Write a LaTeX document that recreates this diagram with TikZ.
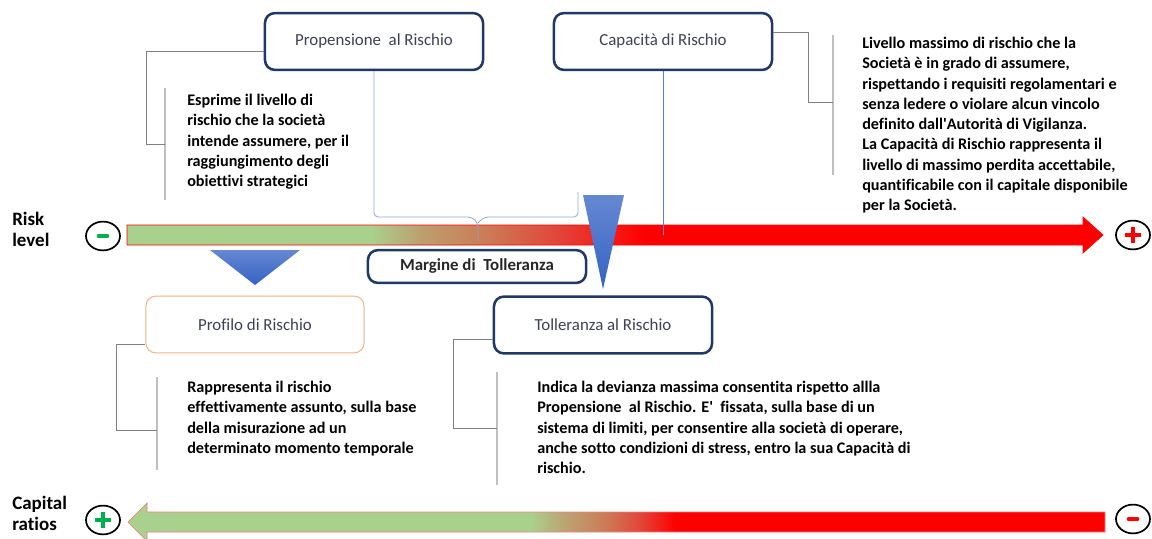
\documentclass[tikz,border=0pt]{standalone}
\usepackage{fontspec}
\setmainfont{Carlito}[Ligatures=NoCommon]
\usepackage{tikz}
\usetikzlibrary{positioning, calc, shapes.geometric}

\definecolor{navy}{HTML}{1F3864}
\definecolor{titlegray}{HTML}{3E4058}
\definecolor{riskgreen}{HTML}{A9D18E}
\definecolor{riskred}{HTML}{FF0000}
\definecolor{midtan}{HTML}{BCA070}
\definecolor{midbrown}{HTML}{CC7A55}
\definecolor{midred}{HTML}{E2463A}
\definecolor{edgered}{HTML}{F08080}
\definecolor{peach}{HTML}{F4B183}
\definecolor{linegray}{HTML}{808080}
\definecolor{bargray}{HTML}{BFBFBF}
\definecolor{bracelue}{HTML}{8EA9DB}
\definecolor{capblue}{HTML}{5B7FD0}
\definecolor{tritop}{HTML}{6688D2}
\definecolor{tribot}{HTML}{3462C4}
\definecolor{signgreen}{HTML}{00B050}

% shadings of the two bars (inner 25bp..75bp is the bounding box)
\pgfdeclarehorizontalshading{riskbar}{100bp}{color(0bp)=(riskgreen); color(37.5bp)=(riskgreen);
  color(40bp)=(midtan); color(43.5bp)=(midbrown); color(47bp)=(midred); color(51.5bp)=(riskred); color(100bp)=(riskred)}
\pgfdeclarehorizontalshading{capbar}{100bp}{color(0bp)=(riskgreen); color(45.6bp)=(riskgreen);
  color(47.5bp)=(midtan); color(49.5bp)=(midbrown); color(51.2bp)=(midred); color(53bp)=(riskred); color(100bp)=(riskred)}

\tikzset{
x=0.025cm, y=-0.025cm, % one unit is one pixel of the layout
box/.style={draw=navy, line width=1.8pt, rounded corners=7pt, fill=white, minimum width=5.45cm, minimum height=1.42cm, text=titlegray, font=\fontsize{12}{14}\selectfont}, % title boxes
desc/.style={anchor=north west, align=left, inner sep=0pt, font=\bfseries\fontsize{11.5}{14.4}\selectfont}, % description texts
conn/.style={draw=linegray, line width=0.6pt}, % box to text connectors
bar/.style={draw=bargray, line width=0.8pt}, % bar left of a text
sign/.style={ellipse, draw=black, line width=1.2pt, minimum width=0.85cm, minimum height=0.72cm, inner sep=0pt}, % plus and minus marks
axislabel/.style={anchor=north west, align=left, inner sep=0pt, font=\bfseries\fontsize{13.5}{15}\selectfont},
}

\begin{document}
\begin{tikzpicture}
\useasboundingbox (0,0) rectangle (1152,539);

% risk level bar
\shade[shading=riskbar, draw=riskred, line width=0.5pt] (127,225) -- (1083,225) -- (1083,217) -- (1103,235) -- (1083,253) -- (1083,245) -- (127,245) -- cycle;
\node[axislabel] (risk) at (12,212) {Risk\\level};
\node[sign] (rlo) at (103,236) {};
\node[sign] (rhi) at (1133,235) {};
\draw[signgreen, line width=3pt, line cap=round] ([xshift=-3pt]rlo.center) -- ([xshift=3pt]rlo.center);
\draw[riskred, line width=2.2pt] ([xshift=-5.5pt]rhi.center) -- ([xshift=5.5pt]rhi.center)
  ([yshift=-6pt]rhi.center) -- ([yshift=6pt]rhi.center);

% capital ratios bar
\shade[shading=capbar, draw=edgered, line width=0.5pt] (1105,512) -- (147,512) -- (147,503) -- (128,522) -- (147,541) -- (147,532) -- (1105,532) -- cycle;
\node[axislabel] (capr) at (12,496) {Capital\\ratios};
\node[sign] (clo) at (103,520) {};
\node[sign] (chi) at (1133,519) {};
\draw[signgreen, line width=2.2pt] ([xshift=-5.5pt]clo.center) -- ([xshift=5.5pt]clo.center)
  ([yshift=-6pt]clo.center) -- ([yshift=6pt]clo.center);
\draw[riskred, line width=3pt, line cap=round] ([xshift=-3pt]chi.center) -- ([xshift=3pt]chi.center);

% title boxes
\node[box] (prop) at (374,41.5) {Propensione\ \ al Rischio};
\node[box] (cap) at (663,41.5) {Capacità di Rischio};
\node[box, draw=peach, line width=0.7pt] (prof) at (255,324.5) {Profilo di Rischio};
\node[box] (toll) at (603,325) {Tolleranza al Rischio};
\node[box, minimum height=0.82cm, text=black!85, font=\bfseries\fontsize{12}{14}\selectfont] (marg) at (477,266.5) {Margine di\ \ Tolleranza};

% margin brace and capacity line
\draw[bracelue, line width=0.6pt, rounded corners=3pt] (prop.south) -- (374,217) -- (472,217) -- (478,223) -- (478,241);
\draw[bracelue, line width=0.6pt, rounded corners=3pt] (478,223) -- (484,217) -- (578,217) -- (578,192);
\draw[capblue, line width=0.6pt] (cap.south) -- (663,235);

% blue markers
\shade[top color=tritop, bottom color=tribot] (210,250) -- (300,250) -- (255,285) -- cycle;
\shade[top color=tritop, bottom color=tribot] (583,195) -- (624,195) -- (603,289) -- cycle;

% descriptions
\node[desc] (dprop) at (187,94) {Esprime il livello di\\rischio che la società\\intende assumere, per il\\raggiungimento degli\\obiettivi strategici};
\node[desc] (dcap) at (862,37) {Livello massimo di rischio che la\\Società è in grado di assumere,\\rispettando i requisiti regolamentari e\\senza ledere o violare alcun vincolo\\definito dall\textquotesingle Autorità di Vigilanza.\\La Capacità di Rischio rappresenta il\\livello di massimo perdita accettabile,\\quantificabile con il capitale disponibile\\per la Società.};
\node[desc] (dprof) at (187,381) {Rappresenta il rischio\\effettivamente assunto, sulla base\\della misurazione ad un\\determinato momento temporale};
\node[desc] (dtoll) at (537,381) {Indica la devianza massima consentita rispetto allla\\Propensione\ \ al Rischio. E\textquotesingle\ \ fissata, sulla base di un\\sistema di limiti, per consentire alla società di operare,\\anche sotto condizioni di stress, entro la sua Capacità di\\rischio.};

% bars and connectors
\coordinate (pb1) at (165,88); \coordinate (pb2) at (165,200);
\coordinate (cb1) at (833,35); \coordinate (cb2) at (833,175);
\coordinate (fb1) at (157,377); \coordinate (fb2) at (157,470);
\coordinate (tb1) at (497,372); \coordinate (tb2) at (497,485);
\draw[bar] (pb1) -- (pb2);
\draw[bar] (cb1) -- (cb2);
\draw[bar] (fb1) -- (fb2);
\draw[bar] (tb1) -- (tb2);
\draw[conn] ([yshift=-6.7pt]prop.west) -- ++(-117,0) |- ($(pb1)!0.5!(pb2)$);
\draw[conn] ([yshift=6.7pt]cap.east) -- ++(35,0) |- ($(cb1)!0.48!(cb2)$);
\draw[conn] ([yshift=-14.5pt]prof.west) -- ++(-29,0) |- ($(fb1)!0.57!(fb2)$);
\draw[conn] ([yshift=-10.6pt]toll.west) -- ++(-39,0) |- ($(tb1)!0.5!(tb2)$);
\end{tikzpicture}
\end{document}
